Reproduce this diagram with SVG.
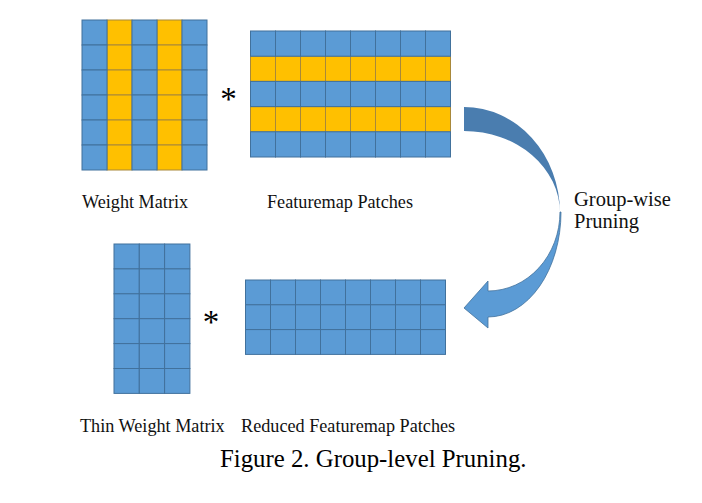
<svg xmlns="http://www.w3.org/2000/svg" xmlns:xlink="http://www.w3.org/1999/xlink" width="702" height="503" viewBox="0 0 702 503">
<style>
.b{fill:#5B9BD5;stroke:#41719C;stroke-width:1}
.y{fill:#FFC000;stroke:#A8883A;stroke-width:1}
.lbl{font-family:"Liberation Serif","Times New Roman",serif;font-size:18.2px;fill:#111}
.cap{font-family:"Liberation Serif","Times New Roman",serif;font-size:24.8px;fill:#000}
.star{font-family:"Liberation Serif","Times New Roman",serif;font-size:33px;fill:#000;text-anchor:middle}
.gw{font-family:"Liberation Serif","Times New Roman",serif;font-size:20.5px;fill:#111}
</style>
<defs>
<rect id="cb" class="b" width="25" height="25"/>
<rect id="cy" class="y" width="25" height="25"/>
</defs>
<rect width="702" height="503" fill="#fff"/>

<g id="weight-matrix" transform="translate(82,20)">
<use href="#cy" x="25" y="0"/><use href="#cy" x="75" y="0"/>
<use href="#cy" x="25" y="25"/><use href="#cy" x="75" y="25"/>
<use href="#cy" x="25" y="50"/><use href="#cy" x="75" y="50"/>
<use href="#cy" x="25" y="75"/><use href="#cy" x="75" y="75"/>
<use href="#cy" x="25" y="100"/><use href="#cy" x="75" y="100"/>
<use href="#cy" x="25" y="125"/><use href="#cy" x="75" y="125"/>
<use href="#cb" x="0" y="0"/><use href="#cb" x="50" y="0"/><use href="#cb" x="100" y="0"/>
<use href="#cb" x="0" y="25"/><use href="#cb" x="50" y="25"/><use href="#cb" x="100" y="25"/>
<use href="#cb" x="0" y="50"/><use href="#cb" x="50" y="50"/><use href="#cb" x="100" y="50"/>
<use href="#cb" x="0" y="75"/><use href="#cb" x="50" y="75"/><use href="#cb" x="100" y="75"/>
<use href="#cb" x="0" y="100"/><use href="#cb" x="50" y="100"/><use href="#cb" x="100" y="100"/>
<use href="#cb" x="0" y="125"/><use href="#cb" x="50" y="125"/><use href="#cb" x="100" y="125"/>
</g>

<g id="featuremap-patches" transform="translate(250.5,31) scale(1,1.008)">
<use href="#cy" x="0" y="25"/><use href="#cy" x="25" y="25"/><use href="#cy" x="50" y="25"/><use href="#cy" x="75" y="25"/><use href="#cy" x="100" y="25"/><use href="#cy" x="125" y="25"/><use href="#cy" x="150" y="25"/><use href="#cy" x="175" y="25"/>
<use href="#cy" x="0" y="75"/><use href="#cy" x="25" y="75"/><use href="#cy" x="50" y="75"/><use href="#cy" x="75" y="75"/><use href="#cy" x="100" y="75"/><use href="#cy" x="125" y="75"/><use href="#cy" x="150" y="75"/><use href="#cy" x="175" y="75"/>
<use href="#cb" x="0" y="0"/><use href="#cb" x="25" y="0"/><use href="#cb" x="50" y="0"/><use href="#cb" x="75" y="0"/><use href="#cb" x="100" y="0"/><use href="#cb" x="125" y="0"/><use href="#cb" x="150" y="0"/><use href="#cb" x="175" y="0"/>
<use href="#cb" x="0" y="50"/><use href="#cb" x="25" y="50"/><use href="#cb" x="50" y="50"/><use href="#cb" x="75" y="50"/><use href="#cb" x="100" y="50"/><use href="#cb" x="125" y="50"/><use href="#cb" x="150" y="50"/><use href="#cb" x="175" y="50"/>
<use href="#cb" x="0" y="100"/><use href="#cb" x="25" y="100"/><use href="#cb" x="50" y="100"/><use href="#cb" x="75" y="100"/><use href="#cb" x="100" y="100"/><use href="#cb" x="125" y="100"/><use href="#cb" x="150" y="100"/><use href="#cb" x="175" y="100"/>
</g>

<g id="thin-weight-matrix" transform="translate(114,244) scale(1.012,0.996)">
<use href="#cb" x="0" y="0"/><use href="#cb" x="25" y="0"/><use href="#cb" x="50" y="0"/>
<use href="#cb" x="0" y="25"/><use href="#cb" x="25" y="25"/><use href="#cb" x="50" y="25"/>
<use href="#cb" x="0" y="50"/><use href="#cb" x="25" y="50"/><use href="#cb" x="50" y="50"/>
<use href="#cb" x="0" y="75"/><use href="#cb" x="25" y="75"/><use href="#cb" x="50" y="75"/>
<use href="#cb" x="0" y="100"/><use href="#cb" x="25" y="100"/><use href="#cb" x="50" y="100"/>
<use href="#cb" x="0" y="125"/><use href="#cb" x="25" y="125"/><use href="#cb" x="50" y="125"/>
</g>

<g id="reduced-featuremap-patches" transform="translate(245.5,280) scale(1,0.992)">
<use href="#cb" x="0" y="0"/><use href="#cb" x="25" y="0"/><use href="#cb" x="50" y="0"/><use href="#cb" x="75" y="0"/><use href="#cb" x="100" y="0"/><use href="#cb" x="125" y="0"/><use href="#cb" x="150" y="0"/><use href="#cb" x="175" y="0"/>
<use href="#cb" x="0" y="25"/><use href="#cb" x="25" y="25"/><use href="#cb" x="50" y="25"/><use href="#cb" x="75" y="25"/><use href="#cb" x="100" y="25"/><use href="#cb" x="125" y="25"/><use href="#cb" x="150" y="25"/><use href="#cb" x="175" y="25"/>
<use href="#cb" x="0" y="50"/><use href="#cb" x="25" y="50"/><use href="#cb" x="50" y="50"/><use href="#cb" x="75" y="50"/><use href="#cb" x="100" y="50"/><use href="#cb" x="125" y="50"/><use href="#cb" x="150" y="50"/><use href="#cb" x="175" y="50"/>
</g>

<g id="connectors">
<path id="arrow-back" d="M464,107 A96,106 0 0 1 560,213 A96,82 0 0 0 464,131 Z" fill="#4A7DAF"/>
<path id="arrow-front" d="M560,212 A72,79 0 0 1 488,291 L488,281 L464,308 L488,328 L488,317 A73,105 0 0 0 561,212 Z" fill="#5B9BD5" stroke="#41719C" stroke-width="0.8" stroke-linejoin="miter"/>
</g>

<g id="labels">
<text class="star" x="228.5" y="110">*</text>
<text class="star" x="211" y="333">*</text>
<text class="lbl" x="82" y="208">Weight Matrix</text>
<text class="lbl" x="267" y="208">Featuremap Patches</text>
<text class="lbl" x="80" y="432">Thin Weight Matrix</text>
<text class="lbl" x="241" y="432">Reduced Featuremap Patches</text>
<text class="gw" x="574" y="206">Group-wise</text>
<text class="gw" x="574" y="228">Pruning</text>
<text class="cap" x="220" y="467">Figure 2. Group-level Pruning.</text>
</g>
</svg>
